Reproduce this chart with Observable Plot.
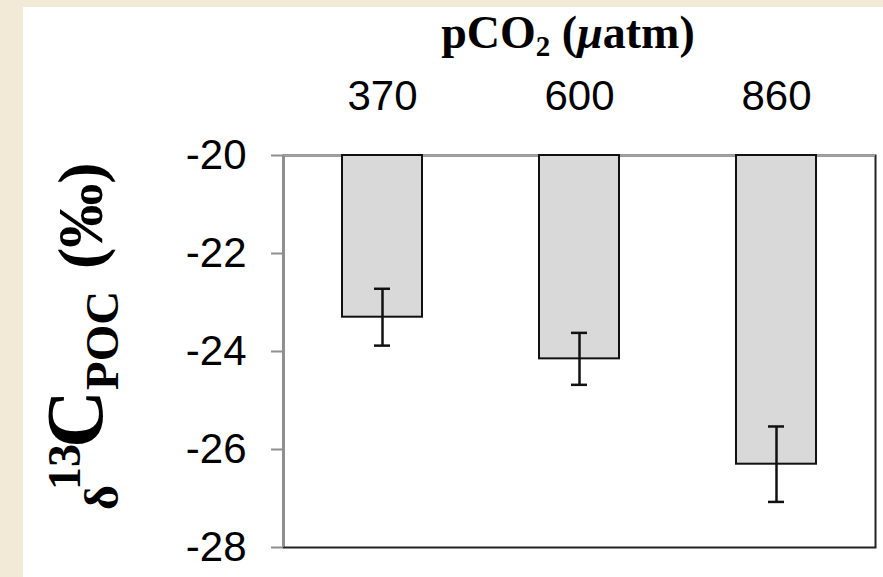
<!DOCTYPE html>
<html>
<head>
<meta charset="utf-8">
<script src="https://cdn.jsdelivr.net/npm/d3@7"></script>
<script src="https://cdn.jsdelivr.net/npm/@observablehq/plot@0.6"></script>
<style>
  html, body { margin: 0; padding: 0; background: #F2EAD6; width: 883px; height: 577px; overflow: hidden; }
  #panel { position: absolute; left: 23px; top: 7px; width: 860px; height: 570px; background: #ffffff; }
  #panel svg { display: block; }
</style>
</head>
<body>
<div id="panel"></div>
<script>
// pCO2 treatments (µatm) and the mean δ13C of POC (‰) with its error
const pco2 = ["370", "600", "860"];
const delta13C = [-23.3, -24.15, -26.3];
const errors = [0.58, 0.53, 0.77];
const yTicks = [-20, -22, -24, -26, -28];
const yDomain = [-28, -20];
const barBase = -20;

const rows = pco2.map((p, i) => ({ pco2: p, value: delta13C[i], err: errors[i] }));

const axisGray = "#8f8f8f";

const chart = Plot.plot({
  width: 860,
  height: 570,
  marginLeft: 260,
  marginRight: 8,
  marginTop: 148,
  marginBottom: 30,
  style: { background: "transparent", fontFamily: "'Liberation Sans', Arial, sans-serif", color: "#000" },
  x: { domain: pco2, paddingInner: 0.594, paddingOuter: 0.297, axis: null },
  y: { domain: yDomain, axis: null },
  marks: [
    // plot-area border (right and bottom stay dark)
    Plot.frame({ stroke: "#222", strokeWidth: 2 }),
    // category axis runs along the top, at the bars' base
    Plot.ruleY([barBase], { stroke: "#a3a3a3", strokeWidth: 2 }),
    Plot.barY(rows, { x: "pco2", y1: barBase, y2: "value", fill: "#D9D9D9", stroke: "#111", strokeWidth: 2 }),
    Plot.ruleX(rows, { x: "pco2", y1: d => d.value - d.err, y2: d => d.value + d.err, stroke: "#111", strokeWidth: 2.5 }),
    Plot.tickY(rows, { x: "pco2", y: d => d.value + d.err, stroke: "#111", strokeWidth: 2.5, insetLeft: 32, insetRight: 32 }),
    Plot.tickY(rows, { x: "pco2", y: d => d.value - d.err, stroke: "#111", strokeWidth: 2.5, insetLeft: 32, insetRight: 32 }),
    Plot.axisX({ anchor: "top", tickSize: 0, tickPadding: 46, label: null, fontSize: 42 }),
    Plot.axisY({ ticks: yTicks, tickFormat: d => String(d), tickSize: 12, tickPadding: 25, label: null, fontSize: 42, stroke: axisGray, strokeWidth: 2 })
  ]
});

document.getElementById("panel").appendChild(chart);

const svg = d3.select(chart);
const xr = chart.scale("x").range;
const yr = chart.scale("y").range;

// value axis line along the left edge of the plot area
svg.append("line")
  .attr("x1", xr[0]).attr("x2", xr[0])
  .attr("y1", yr[0]).attr("y2", yr[1])
  .attr("stroke", axisGray).attr("stroke-width", 2);

const serif = "'Liberation Serif', 'Times New Roman', serif";

// x axis title: pCO2 (µatm)
const title = svg.append("text")
  .attr("x", 545).attr("y", 41)
  .attr("text-anchor", "middle")
  .attr("font-family", serif)
  .attr("font-weight", "bold")
  .attr("font-size", 46)
  .attr("fill", "#000");
title.append("tspan").text("pCO");
title.append("tspan").attr("font-size", 29).attr("dy", 8).text("2");
title.append("tspan").attr("dy", -8).text(" (");
title.append("tspan").attr("font-style", "italic").text("\u03BC");
title.append("tspan").text("atm)");

// y axis title: δ13C POC (‰), rotated to read upward
const ylab = svg.append("text")
  .attr("transform", "rotate(-90)")
  .attr("text-anchor", "start")
  .attr("font-family", serif)
  .attr("font-weight", "bold")
  .attr("fill", "#000");
ylab.append("tspan").attr("x", -503).attr("y", 95).attr("font-size", 48).text("\u03B4");
ylab.append("tspan").attr("x", -483).attr("y", 57).attr("font-size", 46).text("13");
ylab.append("tspan").attr("x", -441).attr("y", 79).attr("font-size", 80).text("C");
ylab.append("tspan").attr("x", -383).attr("y", 95).attr("font-size", 47).text("POC");
ylab.append("tspan").attr("x", -262).attr("y", 79).attr("font-size", 64).text("(\u2030)");
</script>
</body>
</html>
